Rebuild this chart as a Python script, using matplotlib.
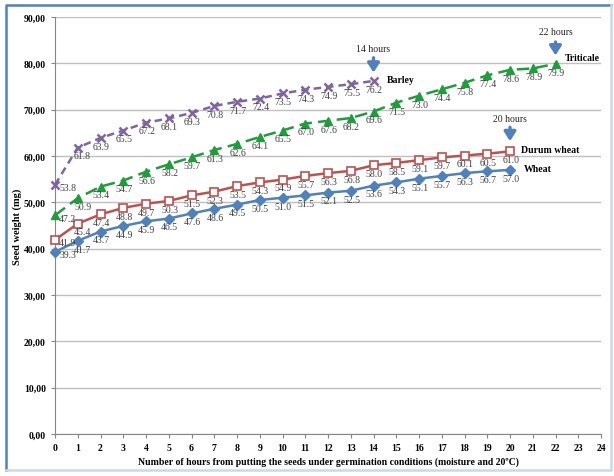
import matplotlib.pyplot as plt
from matplotlib.lines import Line2D

plt.rcParams['font.family'] = ['Liberation Serif', 'DejaVu Serif']

hours = list(range(0, 25))
barley = [53.8, 61.8, 63.9, 65.5, 67.2, 68.1, 69.3, 70.8, 71.7, 72.4, 73.5, 74.3, 74.9, 75.5, 76.2]
triticale = [47.2, 50.9, 53.4, 54.7, 56.6, 58.2, 59.7, 61.3, 62.6, 64.1, 65.5, 67.0, 67.6, 68.2,
             69.6, 71.5, 73.0, 74.4, 75.8, 77.4, 78.6, 78.9, 79.9]
durum = [41.9, 45.4, 47.4, 48.8, 49.7, 50.3, 51.5, 52.3, 53.5, 54.3, 54.9, 55.7, 56.3, 56.8,
         58.0, 58.5, 59.1, 59.7, 60.1, 60.5, 61.0]
wheat = [39.3, 41.7, 43.7, 44.9, 45.9, 46.5, 47.6, 48.6, 49.5, 50.5, 51.0, 51.5, 52.1, 52.5,
         53.6, 54.3, 55.1, 55.7, 56.3, 56.7, 57.0]

fig = plt.figure(figsize=(6.14, 4.77), dpi=100)
ax = fig.add_axes([55/614, 42/477, 546/614, 417/477])

# chart border: dark blue left/top, light blue right/bottom
L, R, B, T = 6/614, 611/614, 6/477, 471/477
fig.lines.append(Line2D([L, L, R], [B, T, T], transform=fig.transFigure, color='#4f81bd', lw=1.8))
fig.lines.append(Line2D([L, R, R], [B, B, T], transform=fig.transFigure, color='#c6d9f1', lw=1.8))

series = [
    (barley, '#8064a2', 'x', (0, (3, 2)), dict(markerfacecolor='#8064a2', markeredgewidth=1.8)),
    (triticale, '#1e9e3a', '^', (0, (5, 2.5)), dict(markerfacecolor='#1e9e3a')),
    (durum, '#c0504d', 's', '-', dict(markerfacecolor='white', markeredgewidth=1.2)),
    (wheat, '#4f81bd', 'D', '-', dict(markerfacecolor='#4f81bd')),
]

for vals, col, mk, ls, kw in series:
    x = hours[:len(vals)]
    ax.plot(x, vals, color=col, linestyle=ls, lw=1.8, marker=mk, markersize=5.5,
            markeredgecolor=col, zorder=3, clip_on=False, **kw)
    for xi, v in zip(x, vals):
        if xi == 0:
            off, ha = (3, -2), 'left'
        elif xi == 1:
            off, ha = (3.5, -6), 'center'
        else:
            off, ha = (0.5, -6), 'center'
        ax.annotate(f'{v:.1f}', (xi, v), xytext=off, textcoords='offset points',
                    ha=ha, va='center', fontsize=7, color='#404040', zorder=4)

# series names
ax.text(14.6, 76.6, 'Barley', fontsize=7, fontweight='bold', va='center')
ax.text(22.4, 81.2, 'Triticale', fontsize=7, fontweight='bold', va='center')
ax.text(20.5, 61.5, 'Durum wheat', fontsize=7, fontweight='bold', va='center')
ax.text(20.6, 57.4, 'Wheat', fontsize=7, fontweight='bold', va='center')

# arrows
arrows = [(14, '14 hours', 83.3, 81.8, 77.4), (22, '22 hours', 86.8, 85.2, 81.1),
          (20, '20 hours', 68.2, 66.8, 62.6)]
for xa, txt, ty, y0, y1 in arrows:
    ax.text(xa, ty, txt, ha='center', va='center', fontsize=7, color='#262626')
    ax.annotate('', xy=(xa, y1), xytext=(xa, y0),
                arrowprops=dict(arrowstyle='-|>,head_width=0.35,head_length=0.55',
                                color='#4f81bd', lw=2.4))

ax.set_xlim(0, 24)
ax.set_ylim(0, 90)
ax.set_xticks(hours)
ax.set_yticks(range(0, 91, 10))
ax.set_yticklabels([f'{v},00' for v in range(0, 91, 10)])
ax.tick_params(axis='both', labelsize=7, direction='out', length=3, color='#868686')
for lab in ax.get_xticklabels() + ax.get_yticklabels():
    lab.set_fontweight('bold')
ax.grid(axis='y', color='#bfbfbf', lw=1)
ax.set_axisbelow(True)
for s in ['top', 'right']:
    ax.spines[s].set_visible(False)
for s in ['left', 'bottom']:
    ax.spines[s].set_color('#868686')

ax.set_xlabel('Number of hours from putting the seeds under germination conditions (moisture and 20ºC)',
              fontsize=7, fontweight='bold', labelpad=3)
ax.set_ylabel('Seed weight (mg)', fontsize=7.5, fontweight='bold', labelpad=1)

fig.savefig('out.png', dpi=100)
